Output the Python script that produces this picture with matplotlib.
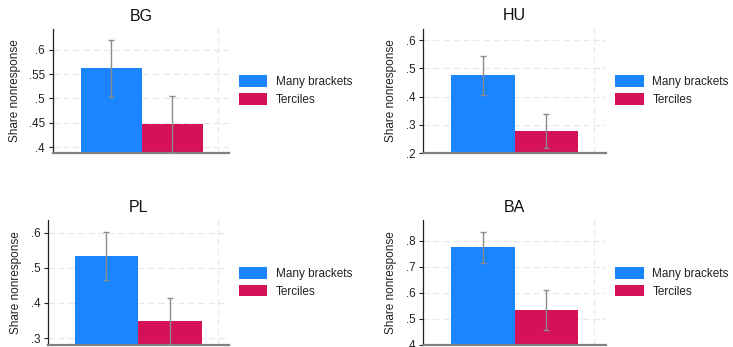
import matplotlib
matplotlib.use("Agg")
import matplotlib.pyplot as plt
from matplotlib.patches import Patch
from matplotlib.ticker import FuncFormatter

plt.rcParams['font.family'] = ['Liberation Sans', 'DejaVu Sans']

countries = ["BG", "HU", "PL", "BA"]
series = ["Many brackets", "Terciles"]
many_vals = [0.562, 0.476, 0.534, 0.777]
many_lo = [0.502, 0.406, 0.465, 0.716]
many_hi = [0.620, 0.545, 0.601, 0.834]
terc_vals = [0.447, 0.278, 0.348, 0.534]
terc_lo = [0.389, 0.219, 0.280, 0.455]
terc_hi = [0.505, 0.338, 0.415, 0.611]
yticks = [[0.4, 0.45, 0.5, 0.55, 0.6],
          [0.2, 0.3, 0.4, 0.5, 0.6],
          [0.3, 0.4, 0.5, 0.6],
          [0.4, 0.5, 0.6, 0.7, 0.8]]
ylims = [(0.388, 0.6425), (0.2, 0.641), (0.281, 0.636), (0.4, 0.881)]

colors = ["#1A85FF", "#D41159"]

W, H = 733, 347
fig = plt.figure(figsize=(W / 100, H / 100), dpi=100)

# axes rectangles in pixels: left, top, right, bottom
rects = [(53, 29, 229, 153), (423.3, 28.7, 605.7, 153),
         (48.3, 220, 229.3, 344.7), (423.3, 220, 605.7, 344.7)]
legend_pos = [(239, 90.5), (615.3, 90.5), (238.7, 282.3), (615.3, 282.3)]
xlims = [(0.046, 2.93), (0.064, 2.936), (0.086, 2.93), (0.064, 2.936)]


def fmt(v, pos):
    s = ("%g" % v)
    if s.startswith("0."):
        s = s[1:]
    return s


for i, c in enumerate(countries):
    l, t, r, b = rects[i]
    ax = fig.add_axes([l / W, 1 - b / H, (r - l) / W, (b - t) / H])
    xs = [1, 2]
    vals = [many_vals[i], terc_vals[i]]
    los = [many_lo[i], terc_lo[i]]
    his = [many_hi[i], terc_hi[i]]
    ax.bar(xs, vals, width=1.0, color=colors, zorder=2)
    err = [[v - lo for v, lo in zip(vals, los)], [hi - v for v, hi in zip(vals, his)]]
    ax.errorbar(xs, vals, yerr=err, fmt='none', ecolor='#8c8c8c', elinewidth=1.0,
                capsize=2, capthick=1.0, zorder=3, clip_on=True)
    ax.set_ylim(*ylims[i])
    ax.set_xlim(*xlims[i])
    ax.set_yticks(yticks[i])
    ax.yaxis.set_major_formatter(FuncFormatter(fmt))
    ax.set_xticks([])
    for y in yticks[i]:
        ax.axhline(y, color='#e8e8e8', lw=0.9, ls=(0, (5, 3)), zorder=1)
    ax.axvline(2.75, color='#e8e8e8', lw=0.9, ls=(0, (5, 3)), zorder=1)
    ax.spines['top'].set_visible(False)
    ax.spines['right'].set_visible(False)
    ax.spines['left'].set_color('#222222')
    ax.spines['left'].set_linewidth(0.9)
    ax.spines['bottom'].set_color('#808080')
    ax.spines['bottom'].set_linewidth(1.6)
    ax.tick_params(axis='y', length=3, width=0.8, color='#222222', pad=2.7,
                   labelsize=8.4, labelcolor='#222222')
    ax.set_ylabel("Share nonresponse", fontsize=8.5, labelpad=6, color='#222222')
    ax.set_title(c, fontsize=11.5, pad=6, color='#111111')
    handles = [Patch(facecolor=colors[0]), Patch(facecolor=colors[1])]
    lx, ly = legend_pos[i]
    fig.legend(handles, series, loc='center left',
               bbox_to_anchor=(lx / W, 1 - ly / H), bbox_transform=fig.transFigure,
               frameon=False, fontsize=8.5, handlelength=2.4, handleheight=1.15,
               handletextpad=0.75, labelspacing=0.42, borderpad=0, borderaxespad=0,
               labelcolor='#222222')

fig.savefig("out.png", dpi=100)
